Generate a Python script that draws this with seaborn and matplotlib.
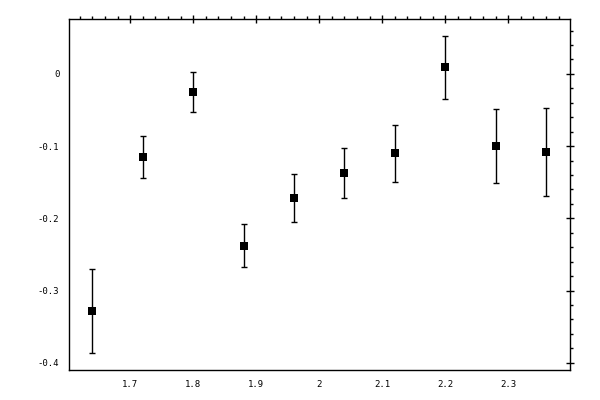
import numpy as np
import pandas as pd
import seaborn as sns
import matplotlib.pyplot as plt
from matplotlib.ticker import MultipleLocator, FormatStrFormatter

# valeurs
x_vals = [1.64, 1.72, 1.80, 1.88, 1.96, 2.04, 2.12, 2.20, 2.28, 2.36]
y_vals = [-0.328, -0.115, -0.025, -0.238, -0.172, -0.137, -0.110, 0.009, -0.100, -0.108]
y_err = [0.058, 0.029, 0.028, 0.030, 0.033, 0.035, 0.039, 0.044, 0.051, 0.061]

df = pd.DataFrame({"x": x_vals, "y": y_vals, "err": y_err})

sns.set_style("white")
plt.rcParams['font.family'] = ['DejaVu Sans Mono']
plt.rcParams['axes.unicode_minus'] = False

fig = plt.figure(figsize=(6, 4), dpi=100)
ax = fig.add_axes([0.115, 0.075, 0.835, 0.8775])

ax.errorbar(df.x, df.y, yerr=df.err, fmt='none', ecolor='black',
            elinewidth=1, capsize=2, capthick=1)
sns.scatterplot(data=df, x="x", y="y", marker='s', s=36, color='black',
                edgecolor='black', linewidth=0, ax=ax, zorder=3)

ax.set_xlim(1.603, 2.398)
ax.set_ylim(-0.41, 0.076)
ax.set_xlabel("")
ax.set_ylabel("")

ax.xaxis.set_major_locator(MultipleLocator(0.1))
ax.xaxis.set_minor_locator(MultipleLocator(0.02))
ax.yaxis.set_major_locator(MultipleLocator(0.1))
ax.yaxis.set_minor_locator(MultipleLocator(0.02))
ax.xaxis.set_major_formatter(FormatStrFormatter('%g'))
ax.yaxis.set_major_formatter(FormatStrFormatter('%g'))

for s in ax.spines.values():
    s.set_color('black')
    s.set_linewidth(1)

ax.tick_params(which='major', direction='inout', length=6, width=1,
               top=True, right=True, labelsize=6.5, colors='black', pad=4)
ax.tick_params(which='minor', direction='out', length=2.5, width=1,
               top=True, right=True, colors='black')

fig.savefig("out.png", dpi=100)
